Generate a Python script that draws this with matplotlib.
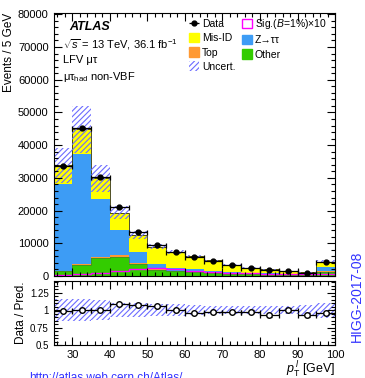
import numpy as np
import matplotlib
matplotlib.use("Agg")
import matplotlib.pyplot as plt
from matplotlib.patches import Patch
from matplotlib.ticker import MultipleLocator

plt.rcParams['font.family'] = ['Liberation Sans', 'DejaVu Sans']
plt.rcParams['mathtext.fontset'] = 'custom'
plt.rcParams['mathtext.rm'] = 'Liberation Sans'
plt.rcParams['mathtext.it'] = 'Liberation Sans:italic'
plt.rcParams['mathtext.bf'] = 'Liberation Sans:bold'
plt.rcParams['hatch.linewidth'] = 0.8

# bins of lepton pT, 5 GeV wide
edges = np.arange(25, 101, 5)

# event counts per bin
data = [33500, 45300, 30200, 21000, 13600, 9500, 7300, 5900, 4600, 3400,
        2500, 1850, 1400, 1000, 4200]
other = [1400, 3500, 5500, 5900, 3600, 1900, 1400, 1100, 900, 700,
         550, 450, 350, 300, 1300]
top = [100, 300, 400, 400, 300, 200, 150, 100, 80, 60, 50, 40, 30, 30, 150]
ztt = [26700, 33600, 17700, 7800, 3300, 1700, 1050, 800, 600, 450,
       350, 300, 250, 200, 1300]
misid = [5600, 7500, 6300, 5300, 5400, 5200, 4700, 4100, 3170, 2290,
         1610, 1210, 760, 550, 1650]
signal = [400, 700, 1000, 1500, 2000, 2300, 2100, 1600, 1200, 950,
          800, 700, 650, 600, 750]
rel_unc = [0.16, 0.16, 0.14, 0.10, 0.10, 0.09, 0.09, 0.07, 0.06, 0.06,
           0.06, 0.06, 0.06, 0.07, 0.11]

c_yellow = '#ffff00'
c_blue = '#3d9cf5'
c_green = '#33cc00'
c_orange = '#ff9933'
c_mag = '#ff00ff'
c_hatch = '#6b6bff'

centers = (edges[:-1] + edges[1:]) / 2
data = np.array(data, float)
total = np.array(other) + np.array(top) + np.array(ztt) + np.array(misid)
unc = total * np.array(rel_unc)

fig = plt.figure(figsize=(3.65, 3.78), dpi=100)
ax = fig.add_axes([0.1466, 0.2698, 0.7714, 0.6958])
rax = fig.add_axes([0.1466, 0.0873, 0.7714, 0.1693])

# stacked backgrounds
base = np.zeros(len(centers))
for vals, col in [(other, c_green), (top, c_orange), (ztt, c_blue), (misid, c_yellow)]:
    ax.stairs(base + np.array(vals), edges, baseline=base, fill=True, color=col, lw=0)
    base = base + np.array(vals)
ax.stairs(total, edges, color='#333300', lw=0.6)
ax.stairs(other, edges, color='#556b2f', lw=0.4)
ax.stairs(signal, edges, color=c_mag, lw=1.0)

ax.bar(centers, 2 * unc, bottom=total - unc, width=5, fill=False, hatch='//////',
       edgecolor=c_hatch, lw=0)

ax.errorbar(centers, data, xerr=2.5, yerr=np.sqrt(data), fmt='o', color='black',
            ms=3.5, capsize=1.8, lw=0.9, capthick=0.9)

ax.set_xlim(25, 100)
ax.set_ylim(0, 80400)
ax.yaxis.set_major_locator(MultipleLocator(10000))
ax.yaxis.set_minor_locator(MultipleLocator(2000))
ax.xaxis.set_major_locator(MultipleLocator(10))
ax.xaxis.set_minor_locator(MultipleLocator(2))
ax.tick_params(which='both', direction='in', top=True, right=True, labelsize=8, width=0.8)
ax.tick_params(which='major', length=6)
ax.tick_params(which='minor', length=3)
ax.tick_params(axis='x', labelbottom=False)
ax.set_ylabel('Events / 5 GeV', fontsize=8.5, loc='top', labelpad=2)

ax.text(0.055, 0.946, 'ATLAS', transform=ax.transAxes, fontsize=9, fontweight='bold',
        fontstyle='italic', va='center')
ax.text(0.035, 0.881, r'$\sqrt{s}$ = 13 TeV, 36.1 fb$^{-1}$', transform=ax.transAxes,
        fontsize=8, va='center')
ax.text(0.035, 0.821, 'LFV μτ', transform=ax.transAxes, fontsize=8, va='center')
ax.text(0.035, 0.756, r'μτ$_{\rm had}$ non-VBF', transform=ax.transAxes, fontsize=8, va='center')

handles = [
    ax.errorbar([], [], xerr=1, fmt='o', color='black', ms=3.5, lw=0.9),
    Patch(facecolor=c_yellow, edgecolor=c_yellow),
    Patch(facecolor=c_orange, edgecolor=c_orange),
    Patch(facecolor='none', edgecolor=c_hatch, hatch='//////', lw=0),
    Patch(facecolor='none', edgecolor=c_mag, lw=1.0),
    Patch(facecolor=c_blue, edgecolor=c_blue),
    Patch(facecolor=c_green, edgecolor=c_green),
]
labels = ['Data', 'Mis-ID', 'Top', 'Uncert.', r'Sig.($B$=1%)×10', 'Z→ττ', 'Other']
ax.legend(handles, labels, ncol=2, loc='upper left', bbox_to_anchor=(0.455, 1.012),
          frameon=False, fontsize=7.5, handlelength=1.0, handleheight=1.0,
          handletextpad=0.25, labelspacing=0.38, columnspacing=0.6, borderpad=0.2)

# ratio panel
ratio = data / total
rax.bar(centers, 2 * np.array(rel_unc), bottom=1 - np.array(rel_unc), width=5,
        fill=False, hatch='//////', edgecolor=c_hatch, lw=0)
rax.errorbar(centers, ratio, xerr=2.5, yerr=np.sqrt(data) / total, fmt='o', color='black',
             mfc='white', mec='black', ms=4, capsize=1.8, lw=0.9, capthick=0.9)
rax.set_xlim(25, 100)
rax.set_ylim(0.5, 1.42)
rax.set_yticks([0.5, 0.75, 1.0, 1.25])
rax.set_yticklabels(['0.5', '0.75', '1', '1.25'])
rax.yaxis.set_minor_locator(MultipleLocator(0.05))
rax.xaxis.set_major_locator(MultipleLocator(10))
rax.xaxis.set_minor_locator(MultipleLocator(2))
rax.tick_params(which='both', direction='in', top=True, right=True, labelsize=8, width=0.8)
rax.tick_params(axis='y', labelsize=7)
rax.tick_params(which='major', length=6)
rax.tick_params(which='minor', length=3)
rax.set_ylabel('Data / Pred.', fontsize=8.5, labelpad=2)
rax.set_xlabel(r'$p_{\rm T}^{\,l}$ [GeV]', fontsize=9, loc='right', labelpad=0)

fig.text(0.978, 0.215, 'HIGG-2017-08', rotation=90, color='#3333ff', fontsize=10,
         ha='center', va='center', transform=fig.transFigure)
# link line at the bottom edge, mostly cut off as in the reference
fig.text(0.08, -0.009, 'http://atlas.web.cern.ch/Atlas/', color='#3333ff', fontsize=8.5,
         va='baseline', transform=fig.transFigure)

fig.savefig('out.png', dpi=100)
